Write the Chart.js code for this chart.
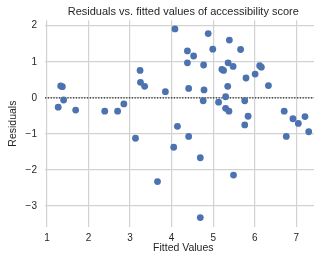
<!DOCTYPE html>
<html>
<head>
<meta charset="utf-8">
<script src="https://cdn.jsdelivr.net/npm/chart.js@4.4.1/dist/chart.umd.min.js"></script>
<style>
    html, body { margin: 0; padding: 0; background: #fff; overflow: hidden; }
    canvas { display: block; }
</style>
</head>
<body>
<canvas id="residChart" width="325" height="258"></canvas>
<script>
// fitted values (x) and residuals (y)
const fitted = [
    1.27, 1.33, 1.37, 1.40, 1.69, 2.39, 2.70, 2.85, 3.24, 3.25,
    3.35, 3.85, 4.08, 4.14, 4.38, 4.38, 4.41, 4.53, 4.77, 4.76,
    4.78, 4.88, 4.99, 5.13, 5.21, 5.25, 5.30, 5.30, 5.35, 5.36,
    5.39, 5.38, 5.48, 5.66, 5.76, 5.79, 5.76, 5.84, 6.01, 6.12,
    6.16, 6.33, 6.71, 6.92, 7.05, 7.21, 3.13, 4.41, 4.05, 4.69,
    3.66, 4.69, 5.49, 6.76, 7.30
]
const residuals = [
    -0.26, 0.33, 0.31, -0.06, -0.34, -0.37, -0.37, -0.17, 0.76, 0.43,
    0.32, 0.17, 1.91, -0.79, 1.30, 0.97, 0.26, 1.16, 0.91, -0.08,
    0.22, 1.78, 1.35, -0.12, 0.79, 0.76, 0.03, -0.29, 0.32, 0.97,
    1.60, -0.37, 0.87, 1.34, -0.08, 0.55, -0.75, -0.51, 0.66, 0.89,
    0.85, 0.34, -0.37, -0.58, -0.71, -0.52, -1.12, -1.07, -1.37, -1.66,
    -2.32, -3.32, -2.14, -1.07, -0.94
]
const xTicks = [1, 2, 3, 4, 5, 6, 7]
const yTicks = [-3, -2, -1, 0, 1, 2]
const xRange = [0.952, 7.61]
const yRange = [-3.58, 2.152]
const zeroLine = [0, 0]

const font = 'Liberation Sans, Arial, Helvetica, sans-serif'
const textColor = '#262626'
const gridColor = '#d2d2d2'

var points = fitted.map(function (x, i) { return {x: x, y: residuals[i]} })
var zeroPts = xRange.map(function (x, i) { return {x: x, y: zeroLine[i]} })

function fmt(v) {
    return v < 0 ? '\u2212' + Math.abs(v) : String(v)
}

new Chart(document.getElementById('residChart').getContext('2d'), {
    type: 'scatter',
    data: {
        datasets: [
            {
                type: 'line',
                data: zeroPts,
                borderColor: '#222',
                borderWidth: 1.2,
                borderDash: [1.2, 1.6],
                pointRadius: 0,
                fill: false,
                order: 2
            },
            {
                data: points,
                backgroundColor: '#4c72b0',
                borderWidth: 0,
                pointRadius: 3.4,
                pointHoverRadius: 3.4,
                order: 1
            }
        ]
    },
    options: {
        responsive: false,
        animation: false,
        events: [],
        layout: { padding: 0 },
        plugins: {
            legend: { display: false },
            tooltip: { enabled: false },
            title: {
                display: true,
                text: 'Residuals vs. fitted values of accessibility score',
                color: textColor,
                font: { family: font, size: 11, weight: 'normal' },
                padding: { top: 5, bottom: 2 },
                fullSize: false
            }
        },
        scales: {
            x: {
                type: 'linear',
                min: xRange[0],
                max: xRange[1],
                afterBuildTicks: function (s) { s.ticks = xTicks.map(function (v) { return {value: v} }) },
                afterFit: function (s) { s.height = 31 },
                border: { display: false },
                grid: { color: gridColor, lineWidth: 1.2, drawTicks: false },
                ticks: {
                    color: textColor,
                    font: { family: font, size: 10 },
                    padding: 5,
                    maxRotation: 0,
                    callback: fmt
                },
                title: {
                    display: true,
                    text: 'Fitted Values',
                    color: textColor,
                    font: { family: font, size: 10.5 },
                    padding: { top: 0, bottom: 3.5 }
                }
            },
            y: {
                type: 'linear',
                min: yRange[0],
                max: yRange[1],
                afterBuildTicks: function (s) { s.ticks = yTicks.map(function (v) { return {value: v} }) },
                afterFit: function (s) { s.width = 45 },
                border: { display: false },
                grid: { color: gridColor, lineWidth: 1.2, drawTicks: false },
                ticks: {
                    color: textColor,
                    font: { family: font, size: 10 },
                    padding: 8,
                    callback: fmt
                },
                title: {
                    display: true,
                    text: 'Residuals',
                    color: textColor,
                    font: { family: font, size: 10.5 },
                    padding: { top: 7, bottom: 0 }
                }
            }
        }
    }
})
</script>
</body>
</html>
